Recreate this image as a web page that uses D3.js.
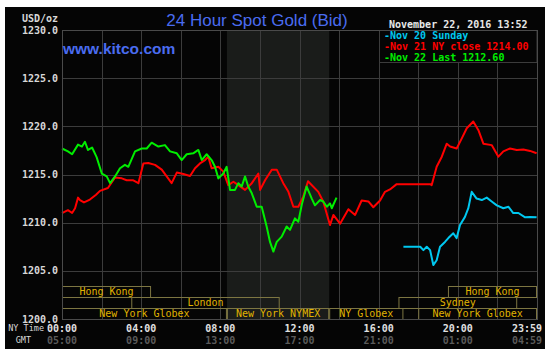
<!DOCTYPE html>
<html>
<head>
<meta charset="utf-8">
<script src="https://cdn.jsdelivr.net/npm/d3@7"></script>
<style>
  body { margin: 0; background: #fff; }
  svg text { font-family: "DejaVu Sans Mono", monospace; }
</style>
</head>
<body>
<div id="chart"></div>
<script>
// chart data (hours since NY midnight, price)
var redHours = [0.00,0.30,0.51,0.66,0.81,0.91,1.11,1.41,1.72,1.92,2.32,2.68,3.02,3.27,3.60,3.86,4.11,4.36,4.70,5.04,5.29,5.54,5.80,6.13,6.47,6.72,6.97,7.23,7.39,7.56,7.90,8.15,8.40,8.66,8.91,9.25,9.59,9.92,10.01,10.26,10.60,10.85,11.18,11.44,11.69,11.94,12.19,12.43,12.95,13.20,13.54,13.71,14.05,14.47,14.81,15.14,15.48,15.73,16.07,16.32,16.57,16.91,17.25,18.60,18.68,18.93,19.19,19.44,19.61,19.94,20.20,20.45,20.78,21.04,21.29,21.71,22.05,22.30,22.64,22.98,23.31,23.65,23.98];
var redPrices = [1211.0,1211.3,1211.0,1211.5,1212.6,1212.35,1212.1,1212.4,1212.9,1213.3,1213.6,1214.7,1214.6,1214.4,1214.4,1214.1,1216.15,1216.2,1216.0,1215.5,1214.8,1214.1,1215.2,1215.05,1214.85,1215.65,1216.15,1216.5,1216.85,1215.65,1215.8,1215.3,1213.9,1214.25,1213.9,1213.4,1214.1,1215.1,1213.4,1214.4,1215.5,1215.5,1214.1,1213.2,1211.65,1211.65,1212.7,1214.3,1213.2,1212.2,1209.75,1210.8,1209.9,1211.4,1210.8,1212.3,1212.2,1211.6,1212.3,1213.2,1213.45,1214.0,1214.0,1214.0,1213.9,1215.8,1216.85,1218.2,1217.9,1217.7,1218.75,1219.8,1220.5,1219.6,1218.2,1218.05,1216.85,1217.4,1217.7,1217.55,1217.6,1217.45,1217.2];

var greenHours = [0.00,0.30,0.51,0.81,1.01,1.16,1.31,1.52,1.75,2.01,2.26,2.43,2.68,2.93,3.18,3.35,3.69,4.03,4.28,4.53,4.87,5.20,5.46,5.80,6.05,6.30,6.63,6.89,7.06,7.31,7.56,7.73,7.90,8.15,8.32,8.49,8.74,8.91,9.08,9.25,9.41,9.59,9.84,10.09,10.34,10.51,10.68,10.85,11.10,11.35,11.52,11.77,11.94,12.13,12.36,12.62,12.78,13.04,13.20,13.38,13.54,13.63,13.87];
var greenPrices = [1217.7,1217.4,1217.1,1218.1,1217.9,1218.4,1217.55,1217.8,1216.8,1215.1,1214.8,1214.1,1214.8,1215.65,1216.0,1215.8,1217.4,1217.7,1217.7,1218.3,1217.9,1218.05,1217.4,1217.2,1216.5,1217.1,1217.2,1217.55,1216.5,1217.1,1216.5,1215.8,1214.6,1215.1,1215.8,1213.4,1213.4,1214.1,1213.75,1214.8,1213.75,1213.05,1211.65,1211.65,1209.6,1208.0,1207.0,1208.0,1208.55,1209.6,1209.25,1210.45,1210.1,1212.0,1213.75,1212.5,1211.8,1212.35,1212.2,1211.65,1212.0,1211.5,1212.6];

var cyanHours = [17.25,18.10,18.26,18.43,18.60,18.76,18.93,19.10,19.35,19.52,19.77,19.94,20.11,20.36,20.53,20.70,20.95,21.21,21.46,21.71,21.97,22.30,22.56,22.80,23.06,23.40,23.65,23.98];
var cyanPrices = [1207.5,1207.5,1207.15,1207.5,1207.15,1205.6,1206.1,1207.5,1208.0,1208.4,1208.9,1208.4,1209.75,1210.6,1211.5,1213.2,1212.5,1212.35,1212.6,1212.2,1211.8,1211.5,1211.65,1211.0,1211.0,1210.55,1210.6,1210.55];

var yTicks = [1200, 1205, 1210, 1215, 1220, 1225, 1230];
var xTickHours = [0, 4, 8, 12, 16, 20, 24];
var nyLabels = ["00:00", "04:00", "08:00", "12:00", "16:00", "20:00", "23:59"];
var gmtLabels = ["05:00", "09:00", "13:00", "17:00", "21:00", "01:00", "04:59"];

// trading sessions: row, start, end, label
var sessionRows = [0, 0, 1, 1, 2, 2, 2, 2];
var sessionStart = [0, 19.5, 3.5, 17, 0, 8.333, 13.5, 18];
var sessionEnd = [4.5, 24, 11, 23, 8.333, 13.5, 17.25, 24];
var sessionNames = ["Hong Kong", "Hong Kong", "London", "Sydney", "New York Globex", "New York NYMEX", "NY Globex", "New York Globex"];

var legendNames = ["Nov 20 Sunday", "Nov 21 NY close 1214.00", "Nov 22 Last 1212.60"];
var legendColors = ["#00c8f0", "#ff0000", "#00ee00"];

var W = 550, H = 354;
var pLeft = 62, pRight = 537, pTop = 30, pBottom = 319;

var svg = d3.select("#chart").append("svg")
    .attr("width", W).attr("height", H);

// black panel
svg.append("rect")
    .attr("x", 5).attr("y", 7)
    .attr("width", 540).attr("height", 342)
    .attr("fill", "#050505");

var x = d3.scaleLinear().domain([0, 24]).range([pLeft, pRight]);
var y = d3.scaleLinear().domain([1200, 1230]).range([pBottom, pTop]);

// NYMEX shading
svg.append("rect")
    .attr("x", x(8.333)).attr("y", pTop)
    .attr("width", x(13.5) - x(8.333)).attr("height", pBottom - pTop)
    .attr("fill", "#1a1c1a");

// grid
var grid = svg.append("g").attr("stroke", "#3c3c3c").attr("stroke-width", 1);
grid.selectAll(".hg").data(yTicks).enter().append("line")
    .attr("x1", pLeft).attr("x2", pRight)
    .attr("y1", function(d) { return Math.round(y(d)) + 0.5; })
    .attr("y2", function(d) { return Math.round(y(d)) + 0.5; });
grid.selectAll(".vg").data(d3.range(0, 25, 2)).enter().append("line")
    .attr("y1", pTop).attr("y2", pBottom)
    .attr("x1", function(d) { return Math.round(x(d)) + 0.5; })
    .attr("x2", function(d) { return Math.round(x(d)) + 0.5; });

// sessions
var rowH = (pBottom - 286) / 3;
var sess = svg.append("g");
sessionNames.forEach(function(name, i) {
    var y0 = 286 + sessionRows[i] * rowH;
    sess.append("rect")
        .attr("x", x(sessionStart[i]) + 0.5).attr("y", Math.round(y0) + 0.5)
        .attr("width", x(sessionEnd[i]) - x(sessionStart[i]) - 1)
        .attr("height", rowH)
        .attr("fill", "none")
        .attr("stroke", "#7d7642")
        .attr("stroke-width", 1);
    sess.append("text")
        .attr("x", (x(sessionStart[i]) + x(sessionEnd[i])) / 2)
        .attr("y", y0 + rowH / 2 + 3.5)
        .attr("text-anchor", "middle")
        .attr("font-size", "10px")
        .attr("fill", "#e0b400")
        .text(name);
});

// lines
var line = d3.line()
    .x(function(d) { return x(d[0]); })
    .y(function(d) { return y(d[1]); });

function drawSeries(hours, prices, color) {
    svg.append("path")
        .datum(d3.zip(hours, prices))
        .attr("d", line)
        .attr("fill", "none")
        .attr("stroke", color)
        .attr("stroke-width", 2)
        .attr("stroke-linejoin", "round");
}
drawSeries(redHours, redPrices, "#ff0000");
drawSeries(cyanHours, cyanPrices, "#00c8f0");
drawSeries(greenHours, greenPrices, "#00ee00");

// legend box
svg.append("rect")
    .attr("x", 379.5).attr("y", pTop + 0.5)
    .attr("width", pRight - 379.5).attr("height", 32)
    .attr("fill", "#050505")
    .attr("stroke", "#3c3c3c");
svg.selectAll(".leg").data(legendNames).enter().append("text")
    .attr("x", 384)
    .attr("y", function(d, i) { return 39 + i * 10.8; })
    .attr("font-size", "10px")
    .attr("font-weight", "bold")
    .attr("fill", function(d, i) { return legendColors[i]; })
    .text(function(d) { return "-" + d; });

// plot frame
svg.append("rect")
    .attr("x", pLeft + 0.5).attr("y", pTop + 0.5)
    .attr("width", pRight - pLeft).attr("height", pBottom - pTop)
    .attr("fill", "none")
    .attr("stroke", "#4a4a4a");

// y axis labels
svg.selectAll(".yl").data(yTicks).enter().append("text")
    .attr("x", 58)
    .attr("y", function(d) { return y(d) + 3.5; })
    .attr("text-anchor", "end")
    .attr("font-size", "10px")
    .attr("font-weight", "bold")
    .attr("fill", "#d8d8d8")
    .text(function(d) { return d3.format(".1f")(d); });
svg.append("text")
    .attr("x", 58).attr("y", 21.5)
    .attr("text-anchor", "end")
    .attr("font-size", "10px").attr("font-weight", "bold")
    .attr("fill", "#d8d8d8")
    .text("USD/oz");

// x axis labels
function xLabelPos(h) { return h === 24 ? x(h) - 10 : x(h); }
svg.selectAll(".ny").data(xTickHours).enter().append("text")
    .attr("x", xLabelPos)
    .attr("y", 331.5)
    .attr("text-anchor", "middle")
    .attr("font-size", "10px").attr("font-weight", "bold")
    .attr("fill", "#e0e0e0")
    .text(function(d, i) { return nyLabels[i]; });
svg.selectAll(".gmt").data(xTickHours).enter().append("text")
    .attr("x", xLabelPos)
    .attr("y", 343.5)
    .attr("text-anchor", "middle")
    .attr("font-size", "10px").attr("font-weight", "bold")
    .attr("fill", "#5a5a5a")
    .text(function(d, i) { return gmtLabels[i]; });
svg.append("text")
    .attr("x", 44).attr("y", 331)
    .attr("text-anchor", "end")
    .attr("font-size", "8.5px").attr("fill", "#d8d8d8")
    .text("NY Time");
svg.append("text")
    .attr("x", 31).attr("y", 343)
    .attr("text-anchor", "end")
    .attr("font-size", "8.5px").attr("fill", "#d8d8d8")
    .text("GMT");

// titles
svg.append("text")
    .attr("x", 257).attr("y", 26)
    .attr("text-anchor", "middle")
    .style("font-family", "'Liberation Sans', Arial, sans-serif")
    .attr("font-size", "17px")
    .attr("fill", "#4a6cf0")
    .text("24 Hour Spot Gold (Bid)");
svg.append("text")
    .attr("x", 63).attr("y", 54)
    .style("font-family", "'Liberation Sans', Arial, sans-serif")
    .attr("font-size", "15.5px")
    .attr("font-weight", "bold")
    .attr("fill", "#4a6cf0")
    .text("www.kitco.com");
svg.append("text")
    .attr("x", 389).attr("y", 28)
    .attr("font-size", "10px").attr("font-weight", "bold")
    .attr("fill", "#e8e8e8")
    .text("November 22, 2016 13:52");
</script>
</body>
</html>
